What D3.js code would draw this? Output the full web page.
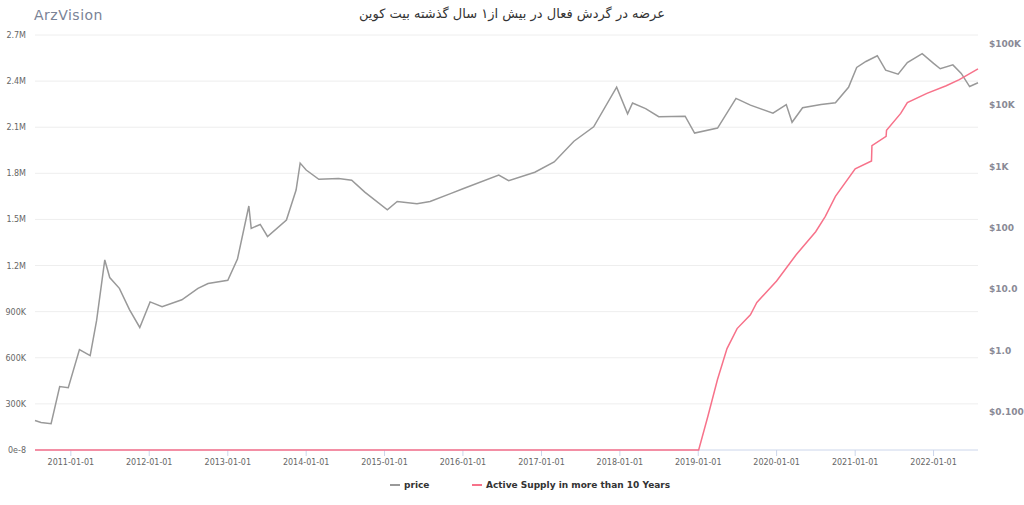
<!DOCTYPE html>
<html><head><meta charset="utf-8">
<script src="https://cdn.jsdelivr.net/npm/d3@7"></script>
<style>body{margin:0;background:#fff;font-family:"DejaVu Sans",sans-serif}</style>
</head><body><svg width="1024" height="505"></svg>
<script>
const priceDates = ['2010-07-18','2010-08-15','2010-10-01','2010-11-10','2010-12-20','2011-02-10','2011-04-01','2011-05-01','2011-06-08','2011-07-01','2011-08-15','2011-10-01','2011-11-18','2012-01-05','2012-03-01','2012-06-01','2012-08-15','2012-10-01','2013-01-01','2013-02-15','2013-04-09','2013-04-20','2013-06-01','2013-07-05','2013-10-01','2013-11-15','2013-12-04','2014-01-01','2014-03-01','2014-06-01','2014-08-01','2014-10-01','2015-01-14','2015-03-01','2015-06-01','2015-08-01','2015-11-04','2016-01-01','2016-06-16','2016-08-01','2016-12-01','2017-03-01','2017-06-01','2017-09-01','2017-12-17','2018-02-06','2018-03-01','2018-05-01','2018-07-01','2018-11-01','2018-12-15','2019-04-01','2019-06-26','2019-09-01','2019-12-15','2020-02-15','2020-03-13','2020-05-01','2020-07-26','2020-10-01','2020-12-01','2021-01-08','2021-02-20','2021-04-14','2021-05-23','2021-07-20','2021-09-01','2021-11-09','2022-01-01','2022-02-01','2022-04-01','2022-05-10','2022-06-18','2022-07-27'];
const priceValues = [0.07,0.065,0.062,0.25,0.24,1.0,0.8,3.0,29,15,10,4.5,2.3,6,5,6.5,10,12,13.5,30,220,95,110,70,130,400,1100,850,600,620,580,370,190,260,240,260,350,420,700,570,780,1150,2500,4300,19000,7000,10500,8500,6300,6400,3400,4100,12500,9700,7200,9900,5100,8800,9900,10600,19000,40000,50000,62000,36000,31000,48000,67000,46500,38000,44000,32000,19500,22500];

const supplyDates = ['2010-07-18','2019-01-03','2019-02-15','2019-04-01','2019-05-15','2019-07-01','2019-09-01','2019-10-01','2020-01-01','2020-04-01','2020-07-01','2020-08-15','2020-10-01','2021-01-01','2021-03-18','2021-03-20','2021-05-25','2021-05-27','2021-08-01','2021-09-01','2021-12-01','2022-03-01','2022-05-01','2022-07-27'];
const supplyValues = [0,0,220000,460000,660000,790000,880000,960000,1100000,1270000,1420000,1520000,1650000,1830000,1880000,1980000,2040000,2080000,2190000,2260000,2320000,2370000,2410000,2480000];

const leftTicks = [0,300000,600000,900000,1200000,1500000,1800000,2100000,2400000,2700000];
const leftLabels = ['0e-8','300K','600K','900K','1.2M','1.5M','1.8M','2.1M','2.4M','2.7M'];
const rightTicks = [0.1,1,10,100,1000,10000,100000];
const rightLabels = ['$0.100','$1.0','$10.0','$100','$1K','$10K','$100K'];
const yearTicks = ['2011-01-01','2012-01-01','2013-01-01','2014-01-01','2015-01-01','2016-01-01','2017-01-01','2018-01-01','2019-01-01','2020-01-01','2021-01-01','2022-01-01'];

const svg = d3.select('svg');
const pd = d3.utcParse('%Y-%m-%d');
const L = 35, R = 978, T = 35, B = 450;

const x = d3.scaleUtc().domain([pd('2010-07-18'), pd('2022-07-27')]).range([L, R]);
const yL = d3.scaleLinear().domain([0, 2700000]).range([B, T]);
const yR = d3.scaleLog().domain([0.1 / Math.pow(10, 39 / 61.3), 100000 * Math.pow(10, 8 / 61.3)]).range([B, T]);

// grid
svg.append('g').selectAll('line').data(leftTicks.slice(1)).enter().append('line')
  .attr('x1', L).attr('x2', R).attr('y1', d => yL(d)).attr('y2', d => yL(d))
  .attr('stroke', '#eeeeee');

// left axis labels
svg.append('g').selectAll('text').data(leftTicks).enter().append('text')
  .attr('x', 26).attr('y', d => yL(d) + 3).attr('text-anchor', 'end')
  .attr('font-size', 8).attr('fill', '#666').text((d, i) => leftLabels[i]);

// right axis labels
svg.append('g').selectAll('text').data(rightTicks).enter().append('text')
  .attr('x', 989).attr('y', d => yR(d) + 4)
  .attr('font-size', 9).attr('font-weight', 'bold').attr('fill', '#8a8a96').text((d, i) => rightLabels[i]);

// x axis
svg.append('line').attr('x1', L).attr('x2', R).attr('y1', B).attr('y2', B).attr('stroke', '#ccd6eb');
const xt = svg.append('g').selectAll('g').data(yearTicks).enter().append('g');
xt.append('line').attr('x1', d => x(pd(d))).attr('x2', d => x(pd(d))).attr('y1', B).attr('y2', B + 6).attr('stroke', '#ccd6eb');
xt.append('text').attr('x', d => x(pd(d))).attr('y', B + 15).attr('text-anchor', 'middle')
  .attr('font-size', 8).attr('fill', '#666').text(d => d);

// lines
const priceData = priceDates.map((d, i) => ({ d: pd(d), v: priceValues[i] }));
const supplyData = supplyDates.map((d, i) => ({ d: pd(d), v: supplyValues[i] }));

svg.append('path').datum(priceData)
  .attr('d', d3.line().x(p => x(p.d)).y(p => yR(p.v)))
  .attr('fill', 'none').attr('stroke', '#999').attr('stroke-width', 1.5);
svg.append('path').datum(supplyData)
  .attr('d', d3.line().x(p => x(p.d)).y(p => yL(p.v)))
  .attr('fill', 'none').attr('stroke', '#f7728a').attr('stroke-width', 1.5);

// title & logo
svg.append('text').attr('x', 512).attr('y', 18).attr('text-anchor', 'middle')
  .attr('font-size', 13).attr('fill', '#333').attr('direction', 'rtl')
  .text('عرضه در گردش فعال در بیش از۱    سال گذشته بیت کوین');
svg.append('text').attr('x', 34).attr('y', 20).attr('font-size', 14).attr('fill', '#7a8396')
  .attr('letter-spacing', 0.5).text('ArzVision');

// legend
const leg = [['price', '#999', 390], ['Active Supply in more than 10 Years', '#f7728a', 472]];
const lg = svg.append('g').selectAll('g').data(leg).enter().append('g');
lg.append('line').attr('x1', d => d[2]).attr('x2', d => d[2] + 10).attr('y1', 485).attr('y2', 485)
  .attr('stroke', d => d[1]).attr('stroke-width', 2);
lg.append('text').attr('x', d => d[2] + 14).attr('y', 488).attr('font-size', 9).attr('font-weight', 'bold')
  .attr('fill', '#333').text(d => d[0]);
</script></body></html>
